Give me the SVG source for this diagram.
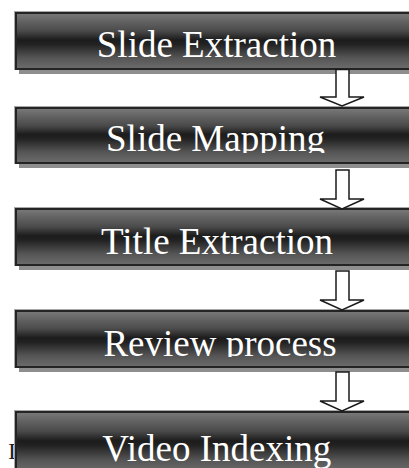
<svg xmlns="http://www.w3.org/2000/svg" width="409" height="468" viewBox="0 0 409 468">
  <style>
    .shadow { fill: #8e8e8e; }
    .edge { fill: none; stroke: #a8a8a8; stroke-width: 1; }
    .box { fill: url(#barFill); stroke: #242424; stroke-width: 2; }
    .label { font-size: 37px; fill: #ffffff; text-anchor: middle; }
    .stray { font-size: 24px; fill: #222222; }
    .arrow { fill: #ffffff; stroke: #1a1a1a; stroke-width: 1.5; stroke-linejoin: miter; }
  </style>
  <defs>
    <linearGradient id="barFill" x1="0" y1="0" x2="0" y2="1">
      <stop offset="0" stop-color="#7a7a7a"/>
      <stop offset="0.12" stop-color="#676767"/>
      <stop offset="0.32" stop-color="#4a4a4a"/>
      <stop offset="0.48" stop-color="#1c1c1c"/>
      <stop offset="0.56" stop-color="#222222"/>
      <stop offset="0.8" stop-color="#555555"/>
      <stop offset="1" stop-color="#6c6c6c"/>
    </linearGradient>
    <clipPath id="clipMapping"><rect x="0" y="100" width="409" height="53"/></clipPath>
    <clipPath id="clipReview"><rect x="0" y="300" width="409" height="57"/></clipPath>
  </defs>

  <rect width="409" height="468" fill="#ffffff"/>

  <g font-family="Liberation Serif, DejaVu Serif, serif">
    <!-- partly hidden letter behind the last bar -->
    <text class="stray" x="8" y="459">I</text>

    <g id="slide-extraction">
      <rect class="shadow" x="19" y="16" width="410" height="58"/>
      <rect class="edge" x="14.5" y="11.5" width="410" height="58"/>
      <rect class="box" x="16" y="13" width="410" height="56"/>
      <text class="label" x="216.5" y="57">Slide Extraction</text>
    </g>

    <g id="slide-mapping">
      <rect class="shadow" x="19" y="112" width="410" height="56"/>
      <rect class="edge" x="14.5" y="106.5" width="410" height="57"/>
      <rect class="box" x="16" y="108" width="410" height="55"/>
      <text class="label" x="215.5" y="151" clip-path="url(#clipMapping)">Slide Mapping</text>
    </g>

    <g id="title-extraction">
      <rect class="shadow" x="19" y="213" width="410" height="57"/>
      <rect class="edge" x="14.5" y="207.5" width="410" height="58"/>
      <rect class="box" x="16" y="209" width="410" height="56"/>
      <text class="label" x="217" y="254">Title Extraction</text>
    </g>

    <g id="review-process">
      <rect class="shadow" x="19" y="315" width="410" height="57"/>
      <rect class="edge" x="14.5" y="309.5" width="410" height="58"/>
      <rect class="box" x="16" y="311" width="410" height="56"/>
      <text class="label" x="220" y="356" clip-path="url(#clipReview)">Review process</text>
    </g>

    <g id="video-indexing">
      <rect class="edge" x="14.5" y="410.5" width="410" height="62"/>
      <rect class="box" x="16" y="412" width="410" height="60"/>
      <text class="label" x="216.7" y="461">Video Indexing</text>
    </g>
  </g>

  <g id="connectors">
    <path class="arrow" d="M336,69.5 H349 V97 H364 L342,106 L320,97 H336 Z"/>
    <path class="arrow" d="M336,170 H349 V199 H364 L342,209 L320,199 H336 Z"/>
    <path class="arrow" d="M336,271 H349 V300 H364 L342,310 L320,300 H336 Z"/>
    <path class="arrow" d="M336,372 H349 V401 H364 L342,411 L320,401 H336 Z"/>
  </g>
</svg>
